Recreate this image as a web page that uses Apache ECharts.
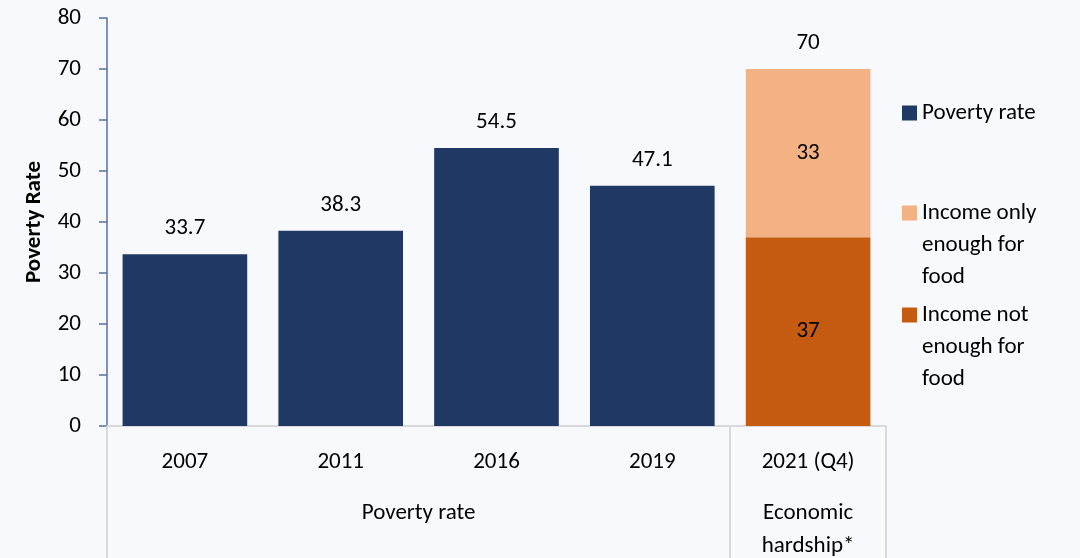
<!DOCTYPE html>
<html>
<head>
<meta charset="utf-8">
<script src="https://cdn.jsdelivr.net/npm/echarts@6/dist/echarts.min.js"></script>
<style>
html,body{margin:0;padding:0;background:#F8F9FD;}
#chart{width:1080px;height:558px;}
</style>
</head>
<body>
<div id="chart"></div>
<script>
const categories = ['2007', '2011', '2016', '2019', '2021 (Q4)'];
const povertyRate = [33.7, 38.3, 54.5, 47.1, '-'];
const incomeNotEnough = ['-', '-', '-', '-', 37];
const incomeOnlyEnough = ['-', '-', '-', '-', 33];
const hardshipTotal = ['-', '-', '-', '-', 70];
const groupLabels = {4: 'Poverty rate', 9: 'Economic\nhardship*'};
const yTicks = {min: 0, max: 80, interval: 10};

const FONT = 'Carlito, Lato';
const FS = 23;
const legendNames = {
  'Poverty rate': 'Poverty rate',
  'Income only enough for food': '\n\nIncome only\nenough for\nfood',
  'Income not enough for food': '\n\nIncome not\nenough for\nfood'
};

function makeLegend(name, top) {
  return {
    orient: 'vertical', left: 902, top: top, padding: 0,
    itemWidth: 15, itemHeight: 15, icon: 'rect',
    formatter: n => legendNames[n],
    textStyle: {fontFamily: FONT, fontSize: FS, color: '#000', lineHeight: 32},
    data: [name]
  };
}

const chart = echarts.init(document.getElementById('chart'));
const valueLabel = {
  show: true, position: 'top', distance: 14, color: '#000',
  fontFamily: FONT, fontSize: FS
};
chart.setOption({
  backgroundColor: '#F8F9FD',
  animation: false,
  textStyle: {fontFamily: FONT},
  grid: {left: 107, right: 194, top: 18, bottom: 132, containLabel: false, outerBoundsMode: 'none'},
  legend: [
    makeLegend('Poverty rate', 97),
    makeLegend('Income only enough for food', 133),
    makeLegend('Income not enough for food', 235)
  ],
  xAxis: [{
    type: 'category', data: categories,
    axisLine: {lineStyle: {color: '#D9D9D9', width: 2}},
    axisTick: {
      show: true, length: 132, lineStyle: {color: '#D9D9D9', width: 2},
      interval: (i) => i === 0 || i === 4
    },
    axisLabel: {color: '#000', fontSize: FS, fontFamily: FONT, margin: 25, interval: 0}
  }, {
    type: 'value', min: 0, max: 10, interval: 1, position: 'bottom',
    axisLine: {show: false}, axisTick: {show: false}, splitLine: {show: false},
    axisLabel: {
      color: '#000', fontSize: FS, fontFamily: FONT, margin: 71, lineHeight: 33,
      verticalAlign: 'top',
      formatter: v => groupLabels[v] || '', showMinLabel: true, showMaxLabel: true
    }
  }],
  yAxis: {
    type: 'value', min: yTicks.min, max: yTicks.max, interval: yTicks.interval,
    name: 'Poverty Rate', nameLocation: 'middle', nameGap: 61, nameRotate: 90,
    nameTextStyle: {color: '#000', fontSize: 23, fontWeight: 'bold', fontFamily: FONT},
    axisLine: {show: true, lineStyle: {color: '#5570A0', width: 1.5}},
    axisTick: {show: true, length: 8, lineStyle: {color: '#5570A0', width: 1.5}},
    axisLabel: {color: '#000', fontSize: FS, fontFamily: FONT, margin: 26},
    splitLine: {show: false}
  },
  series: [
    {
      name: 'Poverty rate', type: 'bar', stack: 'a', data: povertyRate,
      barCategoryGap: '20%', itemStyle: {color: '#203864'}, label: valueLabel
    },
    {
      name: 'Income not enough for food', type: 'bar', stack: 'a', data: incomeNotEnough,
      itemStyle: {color: '#C55A11'},
      label: {show: true, position: 'inside', color: '#000', fontFamily: FONT, fontSize: FS}
    },
    {
      name: 'Income only enough for food', type: 'bar', stack: 'a', data: incomeOnlyEnough,
      itemStyle: {color: '#F4B183'},
      label: {show: true, position: 'inside', color: '#000', fontFamily: FONT, fontSize: FS}
    },
    {
      name: 'total', type: 'bar', stack: 'a',
      data: hardshipTotal.map(v => v === '-' ? '-' : 0),
      itemStyle: {color: 'transparent'},
      label: Object.assign({}, valueLabel, {formatter: p => hardshipTotal[p.dataIndex]})
    }
  ]
});
</script>
</body>
</html>
